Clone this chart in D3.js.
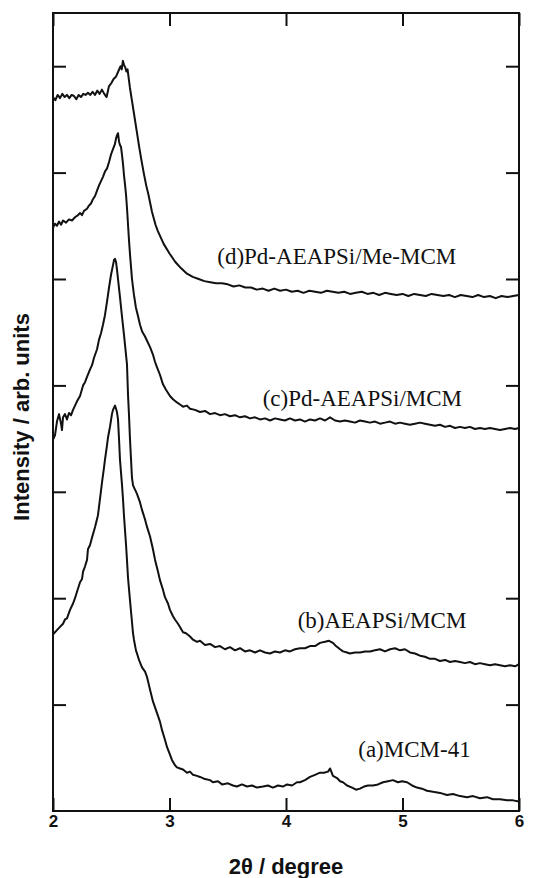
<!DOCTYPE html>
<html>
<head>
<meta charset="utf-8">
<script src="https://cdn.jsdelivr.net/npm/d3@7"></script>
<style>
  body { margin: 0; background: #fff; }
  svg { display: block; }
</style>
</head>
<body>
<svg id="chart" width="546" height="878"></svg>
<script>
// XRD patterns, [2theta (deg), intensity (counts, offset stacked)]
const seriesA = [
  [2.000, 166], [2.017, 168], [2.034, 170], [2.060, 173], [2.086, 176], [2.103, 180],
  [2.120, 181], [2.146, 189], [2.172, 195], [2.189, 200], [2.206, 206], [2.232, 215],
  [2.249, 218], [2.258, 225], [2.275, 230], [2.292, 236], [2.300, 246], [2.318, 250],
  [2.335, 257], [2.361, 267], [2.386, 278], [2.403, 293], [2.421, 309], [2.438, 323],
  [2.446, 330], [2.464, 344], [2.472, 351], [2.489, 361], [2.506, 373], [2.515, 377],
  [2.532, 381], [2.541, 378], [2.549, 375], [2.558, 368], [2.567, 349], [2.575, 330],
  [2.592, 307], [2.601, 293], [2.609, 278], [2.618, 264], [2.627, 250], [2.635, 236],
  [2.644, 219], [2.661, 198], [2.670, 187], [2.687, 167], [2.695, 161], [2.712, 151],
  [2.721, 148], [2.738, 142], [2.764, 135], [2.790, 131], [2.807, 126], [2.833, 114],
  [2.858, 103], [2.893, 92], [2.918, 84], [2.936, 76], [2.961, 67], [2.979, 60],
  [3.004, 53], [3.021, 48], [3.047, 43], [3.064, 41], [3.090, 40], [3.116, 39],
  [3.150, 36], [3.176, 37], [3.202, 34], [3.236, 33], [3.262, 32], [3.305, 30],
  [3.348, 29], [3.373, 27], [3.416, 28], [3.451, 25], [3.502, 26], [3.545, 24],
  [3.579, 23], [3.622, 25], [3.665, 23], [3.708, 24], [3.751, 22], [3.803, 23],
  [3.845, 24], [3.888, 22], [3.931, 24], [3.974, 23], [4.009, 25], [4.052, 24],
  [4.094, 27], [4.120, 27], [4.163, 29], [4.206, 32], [4.249, 34], [4.292, 36],
  [4.326, 36], [4.361, 37], [4.378, 40], [4.403, 33], [4.438, 31], [4.464, 28],
  [4.489, 27], [4.524, 24], [4.567, 22], [4.601, 20], [4.635, 21], [4.670, 23],
  [4.704, 24], [4.747, 24], [4.790, 25], [4.833, 27], [4.876, 28], [4.918, 29],
  [4.961, 27], [4.996, 28], [5.039, 27], [5.082, 24], [5.124, 22], [5.167, 21],
  [5.210, 19], [5.262, 18], [5.322, 17], [5.382, 15], [5.433, 16], [5.494, 14],
  [5.554, 13], [5.605, 14], [5.665, 12], [5.725, 13], [5.777, 11], [5.837, 11],
  [5.897, 10], [5.948, 10], [6.000, 9]
];

const seriesB = [
  [2.000, 349], [2.017, 353], [2.034, 366], [2.052, 373], [2.069, 364], [2.077, 358],
  [2.086, 370], [2.103, 373], [2.120, 368], [2.137, 374], [2.155, 372], [2.172, 377],
  [2.189, 381], [2.206, 385], [2.232, 390], [2.258, 400], [2.275, 403], [2.292, 408],
  [2.318, 415], [2.335, 419], [2.352, 426], [2.378, 434], [2.395, 443], [2.412, 449],
  [2.429, 457], [2.446, 466], [2.464, 479], [2.481, 492], [2.498, 504], [2.515, 513],
  [2.524, 518], [2.532, 519], [2.541, 516], [2.549, 509], [2.558, 500], [2.575, 483],
  [2.592, 465], [2.609, 448], [2.618, 438], [2.635, 420], [2.644, 391], [2.652, 373],
  [2.661, 349], [2.670, 330], [2.678, 313], [2.687, 306], [2.704, 302], [2.721, 298],
  [2.747, 290], [2.764, 283], [2.790, 274], [2.807, 267], [2.833, 258], [2.858, 246],
  [2.876, 236], [2.901, 225], [2.918, 217], [2.944, 208], [2.961, 201], [2.987, 195],
  [3.004, 189], [3.030, 183], [3.047, 180], [3.073, 176], [3.090, 173], [3.116, 168],
  [3.142, 167], [3.176, 164], [3.202, 161], [3.236, 159], [3.262, 160], [3.305, 156],
  [3.348, 157], [3.391, 154], [3.433, 155], [3.476, 152], [3.519, 154], [3.562, 151],
  [3.605, 153], [3.648, 150], [3.691, 151], [3.734, 149], [3.777, 151], [3.820, 149],
  [3.863, 148], [3.906, 150], [3.948, 149], [3.991, 151], [4.034, 150], [4.077, 152],
  [4.120, 153], [4.163, 153], [4.206, 155], [4.249, 155], [4.292, 158], [4.335, 159],
  [4.369, 160], [4.403, 158], [4.429, 155], [4.464, 152], [4.489, 150], [4.524, 149],
  [4.549, 148], [4.592, 149], [4.635, 149], [4.678, 150], [4.721, 150], [4.764, 151],
  [4.807, 152], [4.850, 150], [4.893, 152], [4.936, 153], [4.979, 151], [5.021, 152],
  [5.064, 149], [5.107, 148], [5.150, 146], [5.193, 145], [5.236, 143], [5.279, 143],
  [5.322, 141], [5.365, 142], [5.408, 140], [5.451, 141], [5.494, 140], [5.536, 139],
  [5.579, 140], [5.622, 138], [5.665, 139], [5.708, 138], [5.751, 137], [5.794, 138],
  [5.837, 137], [5.880, 136], [5.923, 137], [5.966, 136], [6.000, 138]
];

const seriesC = [
  [2.000, 548], [2.017, 552], [2.034, 550], [2.052, 554], [2.069, 551], [2.086, 555],
  [2.112, 553], [2.137, 556], [2.163, 555], [2.189, 558], [2.215, 560], [2.232, 562],
  [2.249, 560], [2.266, 564], [2.292, 566], [2.309, 569], [2.326, 571], [2.343, 575],
  [2.361, 578], [2.378, 583], [2.395, 588], [2.412, 592], [2.429, 596], [2.446, 601],
  [2.464, 604], [2.481, 610], [2.498, 617], [2.515, 622], [2.532, 627], [2.541, 632],
  [2.549, 635], [2.558, 637], [2.567, 629], [2.575, 626], [2.584, 624], [2.592, 617],
  [2.601, 608], [2.609, 598], [2.618, 589], [2.627, 579], [2.635, 567], [2.644, 551],
  [2.652, 537], [2.661, 523], [2.670, 511], [2.678, 500], [2.695, 485], [2.712, 473],
  [2.730, 465], [2.747, 457], [2.764, 451], [2.790, 446], [2.807, 442], [2.833, 436],
  [2.858, 429], [2.876, 422], [2.893, 417], [2.918, 410], [2.944, 401], [2.970, 396],
  [3.004, 390], [3.030, 387], [3.064, 384], [3.090, 382], [3.116, 380], [3.150, 381],
  [3.176, 378], [3.219, 377], [3.262, 375], [3.305, 376], [3.348, 373], [3.391, 374],
  [3.433, 372], [3.476, 373], [3.519, 371], [3.562, 372], [3.605, 370], [3.648, 371],
  [3.691, 369], [3.734, 370], [3.777, 368], [3.820, 369], [3.863, 367], [3.906, 369],
  [3.948, 368], [3.991, 367], [4.034, 369], [4.077, 367], [4.120, 368], [4.163, 366],
  [4.206, 368], [4.249, 367], [4.292, 369], [4.335, 367], [4.378, 370], [4.421, 367],
  [4.464, 366], [4.506, 367], [4.549, 366], [4.592, 365], [4.635, 367], [4.678, 366],
  [4.721, 365], [4.764, 366], [4.807, 364], [4.850, 365], [4.893, 366], [4.936, 364],
  [4.979, 365], [5.021, 364], [5.064, 363], [5.107, 364], [5.150, 365], [5.193, 364],
  [5.236, 363], [5.279, 362], [5.322, 363], [5.365, 361], [5.408, 362], [5.451, 360],
  [5.494, 361], [5.536, 360], [5.579, 361], [5.622, 359], [5.665, 360], [5.708, 359],
  [5.751, 360], [5.794, 359], [5.837, 358], [5.880, 359], [5.923, 360], [5.966, 359],
  [6.000, 360]
];

const seriesD = [
  [2.00, 671], [2.02, 668], [2.04, 673], [2.06, 670], [2.08, 674], [2.10, 671],
  [2.12, 673], [2.14, 670], [2.16, 673], [2.18, 672], [2.20, 669], [2.22, 673],
  [2.24, 671], [2.26, 674], [2.28, 673], [2.30, 675], [2.32, 673], [2.34, 676],
  [2.36, 673], [2.38, 677], [2.40, 674], [2.42, 678], [2.44, 674], [2.46, 671],
  [2.48, 681], [2.50, 684], [2.52, 688], [2.54, 690], [2.56, 695], [2.58, 700],
  [2.59, 697], [2.60, 705], [2.61, 701], [2.62, 699], [2.63, 695], [2.64, 697],
  [2.66, 680], [2.68, 666], [2.70, 652], [2.72, 638], [2.74, 624], [2.76, 611],
  [2.78, 599], [2.80, 588], [2.82, 579], [2.85, 563], [2.88, 551], [2.90, 545],
  [2.95, 533], [3.00, 524], [3.05, 516], [3.10, 510], [3.15, 505], [3.20, 502],
  [3.25, 500], [3.30, 498], [3.35, 497], [3.40, 496], [3.45, 496], [3.50, 495],
  [3.55, 493], [3.60, 494], [3.65, 492], [3.70, 492], [3.75, 490], [3.80, 491],
  [3.85, 489], [3.90, 491], [3.95, 489], [4.00, 490], [4.05, 488], [4.10, 489],
  [4.15, 487], [4.20, 489], [4.25, 488], [4.30, 487], [4.35, 489], [4.40, 488],
  [4.45, 487], [4.50, 488], [4.55, 486], [4.60, 487], [4.65, 488], [4.70, 486],
  [4.75, 487], [4.80, 485], [4.85, 487], [4.90, 486], [4.95, 485], [5.00, 486],
  [5.05, 484], [5.10, 486], [5.15, 485], [5.20, 484], [5.25, 486], [5.30, 485],
  [5.35, 484], [5.40, 485], [5.45, 483], [5.50, 485], [5.55, 484], [5.60, 483],
  [5.65, 485], [5.70, 483], [5.75, 484], [5.80, 482], [5.85, 484], [5.90, 483],
  [5.95, 484], [6.00, 485]
];

const seriesNames = ['(a)MCM-41', '(b)AEAPSi/MCM', '(c)Pd-AEAPSi/MCM', '(d)Pd-AEAPSi/Me-MCM'];
const xTicks = [2, 3, 4, 5, 6];
const yTicks = [100, 200, 300, 400, 500, 600, 700];

// where each name sits, in data coordinates (text start, baseline)
const labelAnchor = [[4.62, 51], [4.10, 172], [3.80, 381], [3.41, 514]];

const svg = d3.select('#chart');
const width = +svg.attr('width');
const height = +svg.attr('height');
const margin = { top: 13, right: 27, bottom: 67, left: 53 };
const plotW = width - margin.left - margin.right;
const plotH = height - margin.top - margin.bottom;

const x = d3.scaleLinear().domain([2, 6]).range([0, plotW]);
const y = d3.scaleLinear().domain([0, 750]).range([plotH, 0]);

const g = svg.append('g')
  .attr('transform', `translate(${margin.left},${margin.top})`);

const ink = '#111';
const sansFont = '"Liberation Sans", Arial, sans-serif';
const serifFont = '"Liberation Serif", "Times New Roman", serif';

// ticks point inwards on all four sides
const tickLen = 13;
function styleAxis(sel) {
  sel.select('.domain').remove();
  sel.selectAll('.tick line').attr('stroke', ink).attr('stroke-width', 2);
}

g.append('g')
  .attr('transform', `translate(0,${plotH})`)
  .call(d3.axisBottom(x).tickValues(xTicks).tickSizeInner(-tickLen).tickSizeOuter(0)
    .tickPadding(4).tickFormat(d3.format('d')))
  .call(styleAxis)
  .call(a => a.selectAll('text')
    .attr('fill', ink)
    .style('font-family', sansFont)
    .style('font-weight', 'bold')
    .style('font-size', '17px'));

g.append('g')
  .call(d3.axisTop(x).tickValues(xTicks).tickSizeInner(-tickLen).tickSizeOuter(0).tickFormat(''))
  .call(styleAxis);

g.append('g')
  .call(d3.axisLeft(y).tickValues(yTicks).tickSizeInner(-tickLen).tickSizeOuter(0).tickFormat(''))
  .call(styleAxis);

g.append('g')
  .attr('transform', `translate(${plotW},0)`)
  .call(d3.axisRight(y).tickValues(yTicks).tickSizeInner(-tickLen).tickSizeOuter(0).tickFormat(''))
  .call(styleAxis);

// frame
g.append('rect')
  .attr('width', plotW)
  .attr('height', plotH)
  .attr('fill', 'none')
  .attr('stroke', ink)
  .attr('stroke-width', 2);

// the four patterns
const line = d3.line()
  .x(d => x(d[0]))
  .y(d => y(d[1]));

[seriesA, seriesB, seriesC, seriesD].forEach((s) => {
  g.append('path')
    .datum(s)
    .attr('fill', 'none')
    .attr('stroke', ink)
    .attr('stroke-width', 2)
    .attr('stroke-linejoin', 'round')
    .attr('d', line);
});

// series names
seriesNames.forEach((name, i) => {
  g.append('text')
    .attr('x', x(labelAnchor[i][0]))
    .attr('y', y(labelAnchor[i][1]))
    .attr('fill', ink)
    .style('font-family', serifFont)
    .style('font-size', '23px')
    .text(name);
});

// axis titles
g.append('text')
  .attr('text-anchor', 'middle')
  .attr('transform', `translate(${x(4)},${plotH + 63})`)
  .attr('fill', ink)
  .style('font-family', sansFont)
  .style('font-weight', 'bold')
  .style('font-size', '22px')
  .text('2\u03B8 / degree');

g.append('text')
  .attr('text-anchor', 'middle')
  .attr('transform', `translate(${-24},${404})rotate(-90)`)
  .attr('fill', ink)
  .style('font-family', sansFont)
  .style('font-weight', 'bold')
  .style('font-size', '22px')
  .text('Intensity / arb. units');
</script>
</body>
</html>
